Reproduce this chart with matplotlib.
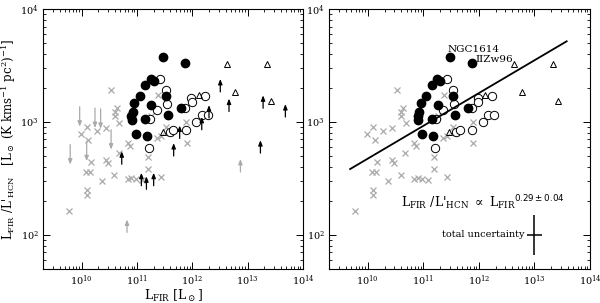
import matplotlib
matplotlib.use("Agg")
import matplotlib.pyplot as plt
import numpy as np

plt.rcParams['font.family'] = ['DejaVu Serif']
plt.rcParams['mathtext.fontset'] = 'dejavuserif'

# ---------------- data (L_FIR [Lsun], L_FIR/L'_HCN) ----------------
filled_x = [3.0e11, 7.5e11, 1.78e11, 2.0e11, 1.41e11, 1.12e11, 3.4e11, 8.9e10, 1.82e11,
            6.3e11, 8.3e10, 7.9e10, 8.1e10, 1.41e11, 3.7e11, 9.5e10, 1.51e11]
filled_y = [3785, 3350, 2400, 2290, 2140, 1690, 1700, 1460, 1400,
            1330, 1220, 1120, 1050, 1070, 1150, 776, 752]

open_x = [2.63e11, 3.4e11, 3.55e11, 2.3e11, 1.7e11, 7.4e11, 9.5e11, 9.8e11, 1.7e12,
          1.17e12, 1.48e12, 1.9e12, 3.9e11, 4.55e11, 7.6e11, 1.62e11]
open_y = [2415, 1930, 1430, 1280, 1070, 1320, 1620, 1515, 1710,
          1000, 1150, 1150, 810, 845, 855, 589]

tri_x = [4.2e12, 2.2e13, 5.9e12, 2.6e13, 1.3e12, 2.95e11]
tri_y = [3260, 3260, 1840, 1535, 1720, 815]

cross_x = [5.9e9, 9.8e9, 1.26e10, 1.32e10, 1.2e10, 1.4e10, 1.26e10, 1.26e10, 1.45e10,
           1.86e10, 2.3e10, 2.75e10, 2.95e10, 2.75e10, 3.4e10, 4.0e10, 4.3e10, 4.0e10,
           4.8e10, 4.7e10, 3.9e10, 6.9e10, 7.4e10, 6.8e10, 7.9e10, 9.5e10, 1.23e11,
           1.55e11, 1.55e11, 2.7e11, 7.9e11, 2.4e11, 2.7e11, 3.9e11, 3.4e11, 7.8e11,
           1.8e11, 2.3e11]
cross_y = [162, 776, 912, 692, 363, 363, 251, 228, 447,
           832, 299, 464, 434, 885, 1930, 1217, 1330, 1137,
           980, 532, 339, 650, 610, 312, 319, 313, 309,
           384, 490, 324, 652, 1740, 747, 795, 912, 995,
           1120, 725]

up_x = [3.2e12, 4.6e12, 1.9e13, 4.8e13, 2.0e12, 1.48e12, 5.9e11, 4.6e11, 5.3e10,
        1.7e13, 7.4e12, 1.2e11, 1.48e11, 2.0e11, 6.6e10]
up_y = [2400, 1610, 1720, 1440, 1410, 1110, 930, 650, 550,
        690, 470, 355, 330, 355, 137]
up_gray = [False, False, False, False, False, False, False, False, False,
           False, True, False, False, False, True]

down_x = [6.2e9, 9.2e9, 1.23e10, 1.74e10, 2.2e10, 3.4e10]
down_y = [420, 910, 450, 885, 870, 570]

fit_slope = 0.29
fit_logy10 = 2.676          # log10 ratio at L_FIR = 1e10
fit_range = [4.8e9, 3.8e13]

unc_x, unc_y = 1.0e13, 100.0
unc_xfac, unc_yfac = 1.35, 1.5

labels = {"NGC1614": (2.75e11, 4370), "IIZw96": (8.5e11, 3550)}

# ---------------- figure ----------------
fig = plt.figure(figsize=(6.0, 3.03), dpi=100)
axL = fig.add_axes([43/600, 1-269/303, 260/600, 260/303])
axR = fig.add_axes([329/600, 1-269/303, 261/600, 260/303])

gray = '#aaaaaa'

def base(ax):
    ax.set_xscale('log'); ax.set_yscale('log')
    ax.set_xlim(2e9, 1e14); ax.set_ylim(50, 1e4)
    ax.tick_params(which='both', direction='in', top=True, right=True, labelsize=7, pad=3)
    ax.tick_params(which='major', length=5, width=0.7)
    ax.tick_params(which='minor', length=2.5, width=0.6)
    ax.xaxis.set_major_locator(matplotlib.ticker.LogLocator(base=10, numticks=10))
    ax.xaxis.set_minor_locator(matplotlib.ticker.LogLocator(base=10, subs=np.arange(2, 10), numticks=20))
    for s in ax.spines.values():
        s.set_linewidth(0.8)
    ax.plot(cross_x, cross_y, 'x', color=gray, ms=5, mew=0.9, zorder=1)
    ax.plot(open_x, open_y, 'o', mfc='white', mec='black', ms=6, mew=0.7, zorder=3)
    ax.plot(filled_x, filled_y, 'o', color='black', ms=6, zorder=4)
    ax.plot(tri_x, tri_y, '^', mfc='none', mec='black', ms=5, mew=0.7, zorder=3)

base(axL)
base(axR)

arrow_style = '-|>,head_length=0.3,head_width=0.12'
# arrows (left panel)
for x, y, g in zip(up_x, up_y, up_gray):
    axL.annotate('', xy=(x, y), xytext=(x, y / 1.3),
                 arrowprops=dict(arrowstyle=arrow_style, color=gray if g else 'black',
                                 lw=0.9, shrinkA=0, shrinkB=0), zorder=5)
for x, y in zip(down_x, down_y):
    axL.annotate('', xy=(x, y), xytext=(x, y * 1.5),
                 arrowprops=dict(arrowstyle=arrow_style, color=gray,
                                 lw=0.9, shrinkA=0, shrinkB=0), zorder=2)

axL.set_xlabel(r'L$_\mathrm{FIR}$ [L$_\odot$]', fontsize=9, labelpad=0)
axL.set_ylabel(r"L$_\mathrm{FIR}$ /L'$_\mathrm{HCN}$   [L$_\odot$ (K kms$^{-1}$ pc$^2$)$^{-1}$]",
               fontsize=8.5, labelpad=2)

# fit line (right panel)
fx = np.array(fit_range)
fy = 10 ** (fit_logy10 + fit_slope * (np.log10(fx) - 10))
axR.plot(fx, fy, '-', color='black', lw=1.3, zorder=6)

for name, (x, y) in labels.items():
    axR.text(x, y, name, fontsize=7.5, ha='left', va='center')

axR.text(4.0e10, 175,
         r"L$_\mathrm{FIR}$ /L'$_\mathrm{HCN}$ $\propto$ L$_\mathrm{FIR}$$^{\mathsf{0.29\pm0.04}}$",
         fontsize=9, ha='left', va='baseline')

axR.errorbar([unc_x], [unc_y],
             xerr=[[unc_x - unc_x / unc_xfac], [unc_x * unc_xfac - unc_x]],
             yerr=[[unc_y - unc_y / unc_yfac], [unc_y * unc_yfac - unc_y]],
             fmt='none', ecolor='black', elinewidth=1.1, capsize=0)
axR.text(2.2e11, 100, 'total uncertainty', fontsize=7, ha='left', va='center')

fig.savefig('out.png', dpi=100)
